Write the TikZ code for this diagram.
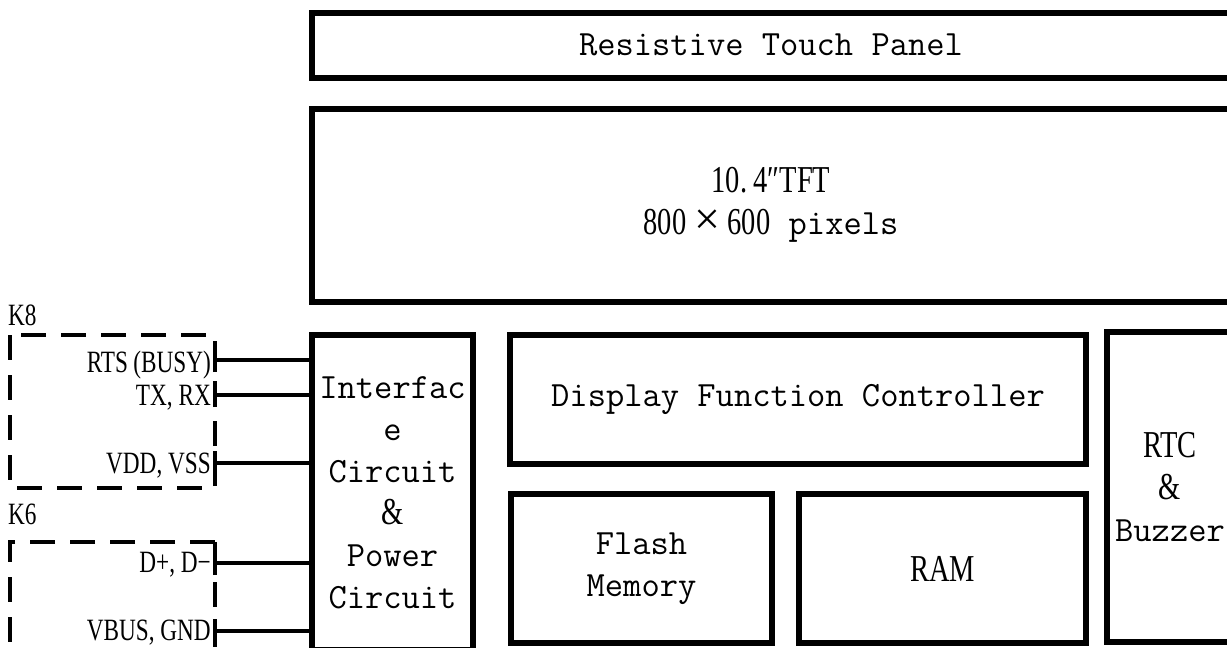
\documentclass[tikz,border=0pt]{standalone}
\usepackage{fontspec}
\newfontfamily\labfont[FakeStretch=0.75]{Liberation Serif}
\newfontfamily\symfont{Liberation Serif}
\newcommand\blkfont{\fontsize{35.5}{42}\selectfont\ttfamily}
\newcommand\lab{\labfont\fontsize{38}{42}\selectfont}
\newcommand\pinfont{\labfont\fontsize{31}{31}\selectfont}
\newcommand\bigtimes{{\symfont\fontsize{46}{42}\selectfont\,×\,}}
\begin{document}
\begin{tikzpicture}[x=1pt,y=-1pt,
    blk/.style={draw,line width=6pt,inner sep=0pt,align=center,font=\blkfont},
    wire/.style={line width=4pt},
    tick/.style={line width=3.5pt},
    dashbox/.style={line width=4pt,dash pattern=on 25pt off 15pt},
    pinlab/.style={anchor=base east,inner sep=0pt,font=\pinfont},
    klab/.style={anchor=base west,inner sep=0pt,font=\labfont\fontsize{31}{31}\selectfont}]
    \clip (0,0) rectangle (1227,648);
    \node[blk,minimum width=918pt,minimum height=65pt] (touch) at (771,45) {Resistive Touch Panel};
    \node[blk,minimum width=918pt,minimum height=193.5pt] (tft) at (771,205.25) {{\lab 10.\,4″TFT}\\{\lab 800}\bigtimes{\lab 600} pixels};
    \node[blk,minimum width=161pt,minimum height=315pt] (iface) at (392.5,492.5) {Interfac\\e\\Circuit\\{\lab\&}\\Power\\Circuit};
    \node[blk,minimum width=576pt,minimum height=129pt] (dfc) at (798,399.5) {Display Function Controller};
    \node[blk,minimum width=261pt,minimum height=149pt] (flash) at (641.5,568.5) {Flash\\Memory};
    \node[blk,minimum width=287pt,minimum height=149pt] (ram) at (942.5,568.5) {{\lab RAM}};
    \node[blk,minimum width=126pt,minimum height=310pt] (rtc) at (1170,487) {{\lab RTC}\\{\lab\&}\\Buzzer};
    \draw[dashbox] (10,335) rectangle (215,488);
    \draw[dashbox] (215,542) -- (10,542) -- (10,660);
    \draw[dashbox] (215,542) -- (215,660);
    \node[klab] (k8) at (8,325) {K8};
    \node[klab] (k6) at (8,524) {K6};
    \coordinate (rts) at (215,360);
    \coordinate (txrx) at (215,395);
    \coordinate (vdd) at (215,463);
    \coordinate (dpm) at (215,563);
    \coordinate (vbus) at (215,631);
    \node[pinlab] (rtslab) at (211,372) {RTS\,(BUSY)};
    \node[pinlab] (txrxlab) at (211,405) {TX, RX};
    \node[pinlab] (vddlab) at (211,473) {VDD, VSS};
    \node[pinlab] (dpmlab) at (211,572) {D+, D−};
    \node[pinlab] (vbuslab) at (211,640) {VBUS, GND};
    \draw[wire] (rts) -- (rts -| iface.west);
    \draw[wire] (txrx) -- (txrx -| iface.west);
    \draw[wire] (vdd) -- (vdd -| iface.west);
    \draw[wire] (dpm) -- (dpm -| iface.west);
    \draw[wire] (vbus) -- (vbus -| iface.west);
    \draw[tick] ([yshift=-12pt]rts) -- ([yshift=12pt]rts);
    \draw[tick] ([yshift=-12pt]txrx) -- ([yshift=12pt]txrx);
    \draw[tick] ([yshift=-12pt]vdd) -- ([yshift=12pt]vdd);
    \draw[tick] ([yshift=-12pt]dpm) -- ([yshift=12pt]dpm);
    \draw[tick] ([yshift=-12pt]vbus) -- ([yshift=12pt]vbus);
\end{tikzpicture}
\end{document}
